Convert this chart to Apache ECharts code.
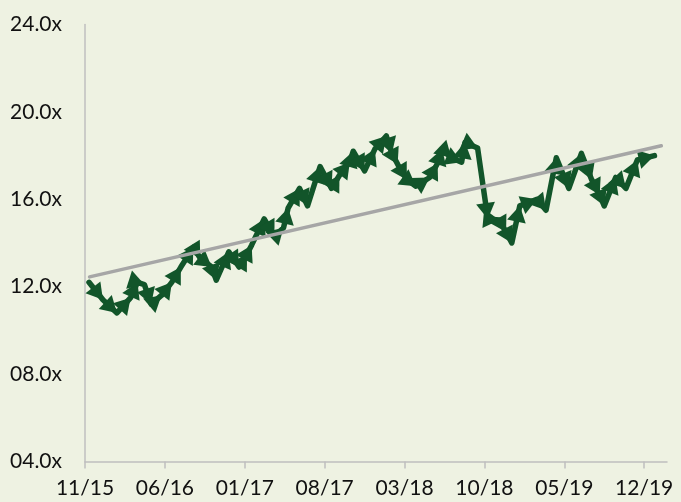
<!DOCTYPE html>
<html><head><meta charset="utf-8">
<script src="https://cdn.jsdelivr.net/npm/echarts@6/dist/echarts.min.js"></script>
<style>html,body{margin:0;padding:0;background:#EEF2E2;} #c{width:681px;height:502px;}</style>
</head><body><div id="c"></div>
<script>
// x-axis tick labels and their position in months since 11/15
const tickLabels = ['11/15','06/16','01/17','08/17','03/18','10/18','05/19','12/19'];
const tickMonths = [0, 7, 14, 21, 28, 35, 42, 49];
// observation dates (months since 11/15) and valuation multiples
const monthOffsets = [0.35,1.57,2.8,4.0,4.6,5.2,5.8,6.7,7.6,8.4,9.5,10.1,11.1,11.5,12.6,13.5,14.2,14.6,15.7,16.6,17.4,17.8,18.8,19.5,20.6,21.6,22.3,23.2,23.5,24.5,25.4,26.4,26.9,27.4,28.2,29.0,30.2,30.9,31.3,32.1,33.0,33.3,34.4,35.3,36.3,36.9,37.4,38.1,39.6,40.4,41.3,42.4,43.5,44.4,45.1,45.5,46.5,47.4,48.4,49.9];
const multiples = [12.2,11.4,10.8,11.5,12.2,12.1,11.2,11.6,12.2,12.9,13.8,13.3,12.9,12.3,13.6,12.9,13.5,13.9,15.1,14.3,14.7,15.6,16.5,15.7,17.5,16.5,17.1,17.7,18.2,17.3,18.3,18.9,18.1,17.6,16.9,16.6,17.0,17.65,18.3,17.9,17.7,18.6,18.35,15.1,15.05,14.5,14.0,15.7,16.0,15.5,17.9,16.5,18.1,16.9,16.2,15.7,17.0,16.5,17.8,18.0];
// trend line endpoints
const trendMonths = [0.4, 50.5];
const trendValues = [12.45, 18.45];

const GREEN = '#12552A';
const ARROW_W = 19, ARROW_L = 16;
const chart = echarts.init(document.getElementById('c'));
const fontFamily = 'Lato';
function baseOption(lineData){
  return {
    backgroundColor: '#EEF2E2',
    animation: false,
    grid: {left: 85, right: 14, top: 24.5, bottom: 40.5, containLabel: false},
    xAxis: {
      type: 'value', min: 0, max: 51,
      axisLine: {show: true, lineStyle: {color: '#BFBFBF', width: 1.5}},
      axisTick: {show: true, length: 7, lineStyle: {color: '#BFBFBF', width: 1.5}, customValues: tickMonths},
      axisLabel: {customValues: tickMonths, margin: 16, color: '#111', fontFamily, fontSize: 21,
        formatter: v => tickLabels[tickMonths.indexOf(v)] || ''},
      splitLine: {show: false}
    },
    yAxis: {
      type: 'value', min: 4, max: 24, interval: 4,
      axisLine: {show: true, lineStyle: {color: '#BFBFBF', width: 1.5}},
      axisTick: {show: false},
      axisLabel: {margin: 23, color: '#111', fontFamily, fontSize: 21,
        formatter: v => (v < 10 ? '0' : '') + v.toFixed(1) + 'x'},
      splitLine: {show: false}
    },
    series: [
      {type: 'line', data: lineData, symbol: 'triangle', symbolSize: [ARROW_W, ARROW_L], showAllSymbol: true,
        symbolKeepAspect: false,
        itemStyle: {color: GREEN}, lineStyle: {color: GREEN, width: 5.5, cap: 'round', join: 'round'},
        emphasis: {disabled: true}, z: 2},
      {type: 'line', data: trendMonths.map((m, i) => [m, trendValues[i]]), symbol: 'none',
        lineStyle: {color: '#A6A6A6', width: 3.5, cap: 'round'}, emphasis: {disabled: true}, z: 3}
    ]
  };
}
const plain = monthOffsets.map((m, i) => ({value: [m, multiples[i]], symbol: 'none'}));
chart.setOption(baseOption(plain));
const pts = monthOffsets.map((m, i) => chart.convertToPixel({gridIndex: 0}, [m, multiples[i]]));
const items = monthOffsets.map((m, i) => {
  const item = {value: [m, multiples[i]]};
  if (i === 0) { item.symbol = 'none'; return item; }
  const dx = pts[i][0] - pts[i-1][0], dy = pts[i][1] - pts[i-1][1];
  const len = Math.hypot(dx, dy) || 1;
  item.symbolRotate = Math.atan2(-dy, dx) * 180 / Math.PI - 90;
  item.symbolOffset = [-dx / len * ARROW_L / 2, -dy / len * ARROW_L / 2];
  return item;
});
chart.setOption(baseOption(items), true);
</script></body></html>
